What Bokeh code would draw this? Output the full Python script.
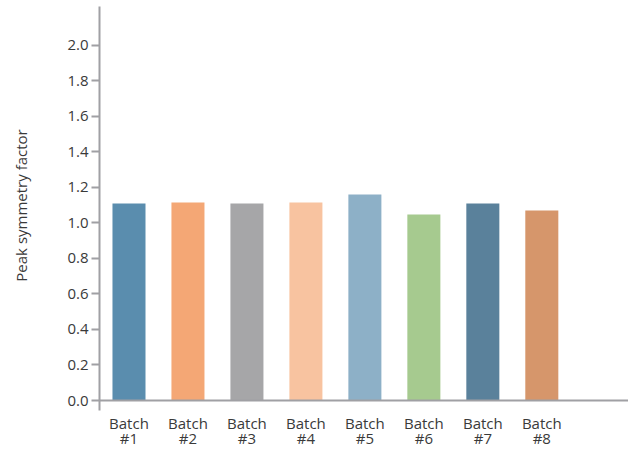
import numpy as np
from bokeh.plotting import figure
from bokeh.models import (ColumnDataSource, FixedTicker, Span, Range1d,
                          LinearAxis, NumeralTickFormatter)
from bokeh.embed import file_html
from bokeh.resources import INLINE

categories = ["Batch #1", "Batch #2", "Batch #3", "Batch #4",
              "Batch #5", "Batch #6", "Batch #7", "Batch #8"]
values = [1.108, 1.114, 1.108, 1.114, 1.159, 1.046, 1.108, 1.069]
colors = ["#5A8DAE", "#F4A775", "#A6A6A8", "#F8C3A0",
          "#8DB0C7", "#A6CA8F", "#5A819B", "#D6966B"]
y_ticks = [0.0, 0.2, 0.4, 0.6, 0.8, 1.0, 1.2, 1.4, 1.6, 1.8, 2.0]

xpos = [i + 0.5 for i in range(len(categories))]
line1 = [c.split(" ")[0] for c in categories]
line2 = [c.split(" ")[1] for c in categories]
src = ColumnDataSource(dict(x=xpos, top=values, color=colors))

FONT = "Open Sans"
TEXT = "#3a3a3a"
AXIS = "#a0a0a4"
FS = "15px"

p = figure(width=628, height=450, output_backend="svg", toolbar_location=None,
           x_range=Range1d(0, 8.97), y_range=Range1d(-0.05626, 2.2504),
           min_border_left=99, min_border_right=0, min_border_top=0,
           min_border_bottom=40)
p.outline_line_color = None
p.grid.grid_line_color = None

p.vbar(x="x", top="top", bottom=0, width=0.56, color="color", line_color=None, source=src)

p.add_layout(Span(location=0, dimension="width", line_color=AXIS, line_width=2))


def style_x(ax, labels, standoff):
    ax.ticker = FixedTicker(ticks=xpos)
    ax.major_label_overrides = {x: t for x, t in zip(xpos, labels)}
    ax.axis_line_color = None
    ax.major_tick_line_color = None
    ax.minor_tick_line_color = None
    ax.major_tick_in = 0
    ax.major_tick_out = 0
    ax.minor_tick_out = 0
    ax.major_label_standoff = standoff
    ax.major_label_text_font = FONT
    ax.major_label_text_font_size = FS
    ax.major_label_text_color = TEXT


style_x(p.xaxis[0], line1, 2)
ax2 = LinearAxis()
style_x(ax2, line2, -8)
p.add_layout(ax2, "below")

# y axis
ya = p.yaxis[0]
ya.ticker = FixedTicker(ticks=y_ticks)
ya.formatter = NumeralTickFormatter(format="0.0")
ya.bounds = (-0.05626, 2.2166)
ya.axis_line_color = AXIS
ya.axis_line_width = 2
ya.major_tick_line_color = AXIS
ya.major_tick_line_width = 2
ya.major_tick_in = 0
ya.major_tick_out = 8
ya.minor_tick_line_color = None
ya.major_label_standoff = 3
ya.major_label_text_font = FONT
ya.major_label_text_font_size = FS
ya.major_label_text_color = TEXT
ya.axis_label = "Peak symmetry factor"
ya.axis_label_text_font = FONT
ya.axis_label_text_font_size = "15px"
ya.axis_label_text_font_style = "normal"
ya.axis_label_text_color = TEXT
ya.axis_label_standoff = 33

open("out.html", "w").write(file_html(p, INLINE))
